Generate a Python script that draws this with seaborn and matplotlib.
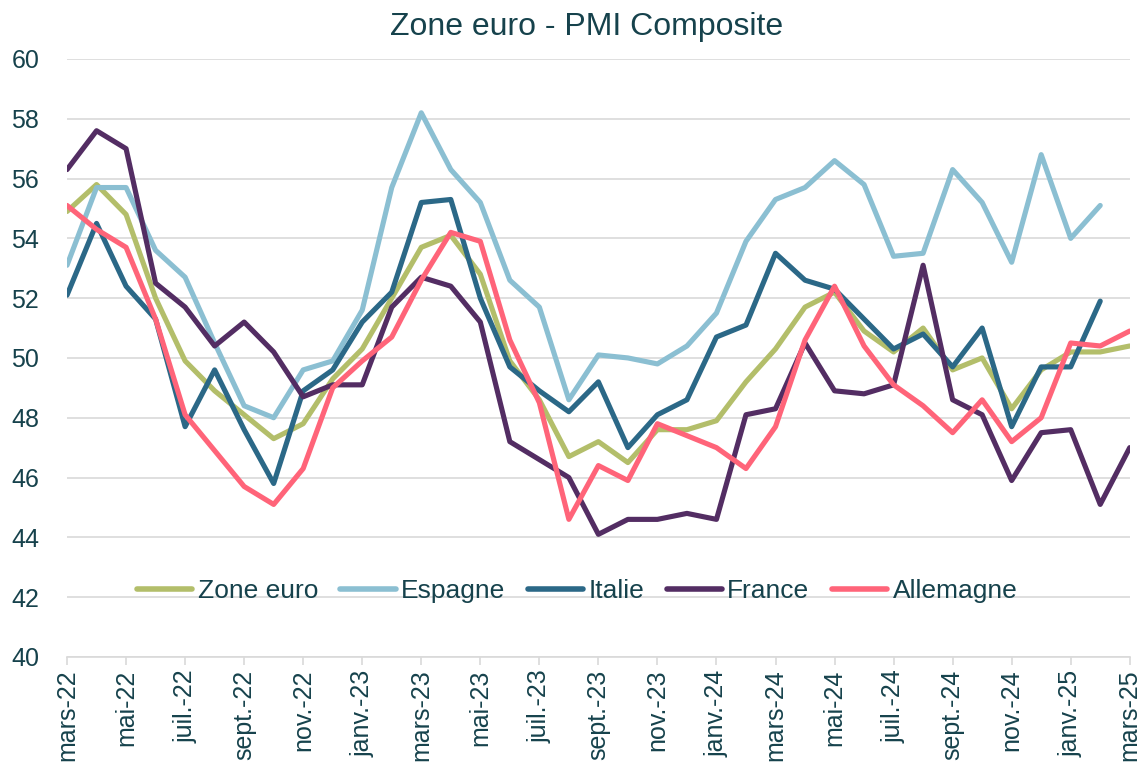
import matplotlib
matplotlib.use("Agg")
import matplotlib.pyplot as plt
import numpy as np
import pandas as pd
import seaborn as sns

# data: composite PMI, mars-22 .. mars-25
month_names = ['janv.', 'févr.', 'mars', 'avr.', 'mai', 'juin',
               'juil.', 'août', 'sept.', 'oct.', 'nov.', 'déc.']
labels = ['%s-%d' % (month_names[(2 + i) % 12], 22 + (2 + i) // 12) for i in range(37)]

zone_euro = [54.9, 55.8, 54.8, 52.0, 49.9, 48.9, 48.1, 47.3, 47.8, 49.3, 50.3, 52.0,
             53.7, 54.1, 52.8, 49.9, 48.6, 46.7, 47.2, 46.5, 47.6, 47.6, 47.9, 49.2,
             50.3, 51.7, 52.2, 50.9, 50.2, 51.0, 49.6, 50.0, 48.3, 49.6, 50.2, 50.2, 50.4]
espagne = [53.1, 55.7, 55.7, 53.6, 52.7, 50.5, 48.4, 48.0, 49.6, 49.9, 51.6, 55.7,
           58.2, 56.3, 55.2, 52.6, 51.7, 48.6, 50.1, 50.0, 49.8, 50.4, 51.5, 53.9,
           55.3, 55.7, 56.6, 55.8, 53.4, 53.5, 56.3, 55.2, 53.2, 56.8, 54.0, 55.1, np.nan]
italie = [52.1, 54.5, 52.4, 51.3, 47.7, 49.6, 47.6, 45.8, 48.9, 49.6, 51.2, 52.2,
          55.2, 55.3, 52.0, 49.7, 48.9, 48.2, 49.2, 47.0, 48.1, 48.6, 50.7, 51.1,
          53.5, 52.6, 52.3, 51.3, 50.3, 50.8, 49.7, 51.0, 47.7, 49.7, 49.7, 51.9, np.nan]
france = [56.3, 57.6, 57.0, 52.5, 51.7, 50.4, 51.2, 50.2, 48.7, 49.1, 49.1, 51.7,
          52.7, 52.4, 51.2, 47.2, 46.6, 46.0, 44.1, 44.6, 44.6, 44.8, 44.6, 48.1,
          48.3, 50.5, 48.9, 48.8, 49.1, 53.1, 48.6, 48.1, 45.9, 47.5, 47.6, 45.1, 47.0]
allemagne = [55.1, 54.3, 53.7, 51.3, 48.1, 46.9, 45.7, 45.1, 46.3, 49.0, 49.9, 50.7,
             52.6, 54.2, 53.9, 50.6, 48.5, 44.6, 46.4, 45.9, 47.8, 47.4, 47.0, 46.3,
             47.7, 50.6, 52.4, 50.4, 49.1, 48.4, 47.5, 48.6, 47.2, 48.0, 50.5, 50.4, 50.9]

series = ['Zone euro', 'Espagne', 'Italie', 'France', 'Allemagne']
colors = ['#B3BE6A', '#8BBFD2', '#2B6887', '#532D63', '#FF6479']
text_color = '#16424C'

df = pd.DataFrame({'Zone euro': zone_euro, 'Espagne': espagne, 'Italie': italie,
                   'France': france, 'Allemagne': allemagne})
df['x'] = np.arange(len(df))
long = df.melt(id_vars='x', var_name='pays', value_name='pmi')

sns.set_style('white')
plt.rcParams['font.family'] = ['Liberation Sans', 'DejaVu Sans']

fig, ax = plt.subplots(figsize=(11.4, 7.71), dpi=100)
fig.subplots_adjust(left=0.0588, right=0.991, top=0.9235, bottom=0.148)

sns.lineplot(data=long, x='x', y='pmi', hue='pays', hue_order=series,
             palette=colors, linewidth=3.7, ax=ax, legend=True)

ax.set_xlim(0, 36)
ax.set_ylim(40, 60)
ax.set_yticks(range(40, 61, 2))
ax.yaxis.grid(True, color='#D9D9D9', linewidth=1.2)
ax.set_axisbelow(True)
ax.set_xticks(range(0, 37, 2))
ax.set_xticklabels([labels[i] for i in range(0, 37, 2)], rotation=90)
ax.tick_params(axis='x', length=6, width=1.2, color='#D9D9D9', pad=3,
               labelsize=18, labelcolor=text_color, bottom=True)
ax.tick_params(axis='y', length=0, pad=20, labelsize=18, labelcolor=text_color)
for s in ['top', 'right', 'left']:
    ax.spines[s].set_visible(False)
ax.spines['bottom'].set_color('#D9D9D9')
ax.spines['bottom'].set_linewidth(1.2)
ax.set_xlabel('')
ax.set_ylabel('')
ax.set_title('Zone euro - PMI Composite', fontsize=23, color=text_color, pad=17, x=0.489)

leg = ax.legend(loc='center', bbox_to_anchor=(0.48, 0.11), ncol=5, frameon=False,
                fontsize=19, handlelength=2.1, handletextpad=0.2, columnspacing=0.85,
                labelcolor=text_color)
for h in leg.get_lines():
    h.set_linewidth(4)

fig.savefig('out.png', dpi=100)
